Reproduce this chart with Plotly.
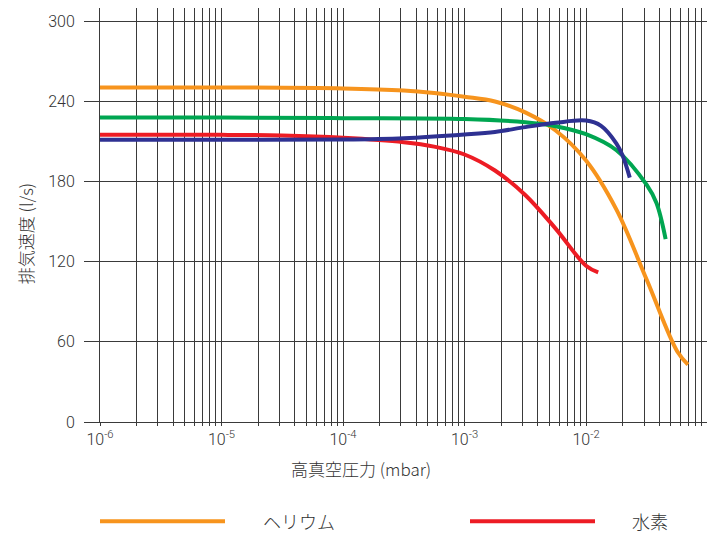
import plotly.graph_objects as go

# Data (pressure in mbar, pumping speed in l/s)
he_p = [1e-6, 1e-5, 1e-4, 3.16e-4, 5.62e-4, 1e-3, 1.78e-3, 3.16e-3, 5.62e-3, 1e-2,
        1.78e-2, 3.16e-2, 5.62e-2, 6.9e-2]
he_s = [250.5, 250.5, 249.8, 248.2, 246.3, 243.5, 240, 231.8, 218.3, 195.8,
        159, 106.5, 53, 43]

n2_p = [1e-6, 1e-5, 1e-4, 1e-3, 3.16e-3, 5.62e-3, 1e-2, 1.78e-2, 3.16e-2, 3.8e-2, 4.52e-2]
n2_s = [228, 228, 227.5, 226.8, 224.5, 221.5, 215.5, 203.5, 177.5, 164, 137]

ar_p = [1e-6, 1e-5, 1e-4, 3.16e-4, 1e-3, 1.78e-3, 3.16e-3, 5.62e-3, 1e-2, 1.33e-2,
        1.78e-2, 2.0e-2, 2.29e-2]
ar_s = [211.3, 211.3, 211.5, 212.5, 215.3, 217.2, 220.8, 224, 225.7, 221.8,
        208.5, 199.5, 183]

h2_p = [1e-6, 1e-5, 3.16e-5, 1e-4, 3.16e-4, 5.62e-4, 1e-3, 1.78e-3, 3.16e-3, 5.62e-3,
        1e-2, 1.26e-2]
h2_s = [215, 215, 214.5, 212.8, 209.5, 206.2, 200.3, 188.3, 170, 144.8,
        117, 112]

x_tickvals = [1e-6, 1e-5, 1e-4, 1e-3, 1e-2, 1e-1]
x_ticktext = ["10<sup>-6</sup>", "10<sup>-5</sup>", "10<sup>-4</sup>",
              "10<sup>-3</sup>", "10<sup>-2</sup>", "10<sup>-1</sup>"]
y_tickvals = [0, 60, 120, 180, 240, 300]

legend_names = ["ヘリウム", "水素"]

ORANGE = "#F7941D"
GREEN = "#00A651"
BLUE = "#2E3192"
RED = "#ED1C24"
GRID = "#3a3a3a"
TXT = "#333333"
FONT = "Roboto, Liberation Sans, Arial, sans-serif"
CJK = "Noto Sans CJK JP, sans-serif"

fig = go.Figure()
for p, s, c in [(he_p, he_s, ORANGE), (n2_p, n2_s, GREEN), (h2_p, h2_s, RED), (ar_p, ar_s, BLUE)]:
    fig.add_trace(go.Scatter(x=p, y=s, mode="lines",
                             line=dict(color=c, width=4, shape="spline", smoothing=1.0,
                                       simplify=False),
                             showlegend=False, hoverinfo="skip"))

OFF = 8  # page body margin
W, H = 715 - OFF, 538 - OFF
L, R, T, B = 100 - OFF, 2, 8 - OFF, 538 - 421.7
pw = W - L - R
ph = H - T - B

def px(x):
    return (x - OFF - L) / pw

def py(y):
    return (H - B - (y - OFF)) / ph

fig.update_layout(
    width=W, height=H,
    margin=dict(l=L, r=R, t=T, b=B, pad=0),
    paper_bgcolor="white", plot_bgcolor="white",
    font=dict(family=FONT, size=16, color=TXT, weight=300),
    showlegend=False,
    xaxis=dict(
        type="log", range=[-6, -0.955],
        tickvals=x_tickvals, ticktext=x_ticktext,
        showgrid=True, gridcolor=GRID, gridwidth=1,
        minor=dict(dtick="D1", showgrid=True, gridcolor=GRID, gridwidth=1,
                   ticks="outside", ticklen=3, tickcolor=GRID),
        ticks="outside", ticklen=3, tickcolor=GRID,
        showline=True, linecolor=GRID, linewidth=1,
        zeroline=False,
        tickfont=dict(family=FONT, size=16, color=TXT, weight=300),
    ),
    yaxis=dict(
        range=[0, 310],
        tickvals=y_tickvals,
        showgrid=True, gridcolor=GRID, gridwidth=1,
        ticks="outside", ticklen=15, tickcolor=GRID,
        showline=True, linecolor=GRID, linewidth=1,
        zeroline=False,
        ticklabelstandoff=6,
        tickfont=dict(family=FONT, size=16, color=TXT, weight=300),
    ),
)

annotations = [
    dict(text="排気速度 (l/s)", x=px(25), y=py(234), xref="paper", yref="paper",
         textangle=-90, showarrow=False, font=dict(family=CJK, size=17, color=TXT, weight=300),
         xanchor="center", yanchor="middle"),
    dict(text="高真空圧力 (mbar)", x=px(361), y=py(468), xref="paper", yref="paper",
         showarrow=False, font=dict(family=CJK, size=17, color=TXT, weight=300),
         xanchor="center", yanchor="middle"),
    dict(text=legend_names[0], x=px(261), y=py(521), xref="paper", yref="paper",
         showarrow=False, font=dict(family=CJK, size=18, color=TXT, weight=300),
         xanchor="left", yanchor="middle"),
    dict(text=legend_names[1], x=px(630), y=py(521), xref="paper", yref="paper",
         showarrow=False, font=dict(family=CJK, size=18, color=TXT, weight=300),
         xanchor="left", yanchor="middle"),
]
fig.update_layout(annotations=annotations)

fig.add_shape(type="line", xref="paper", yref="paper", x0=px(100), x1=px(225),
              y0=py(521), y1=py(521), line=dict(color=ORANGE, width=4))
fig.add_shape(type="line", xref="paper", yref="paper", x0=px(470), x1=px(595),
              y0=py(521), y1=py(521), line=dict(color=RED, width=4))

fig.write_html("out.html")
